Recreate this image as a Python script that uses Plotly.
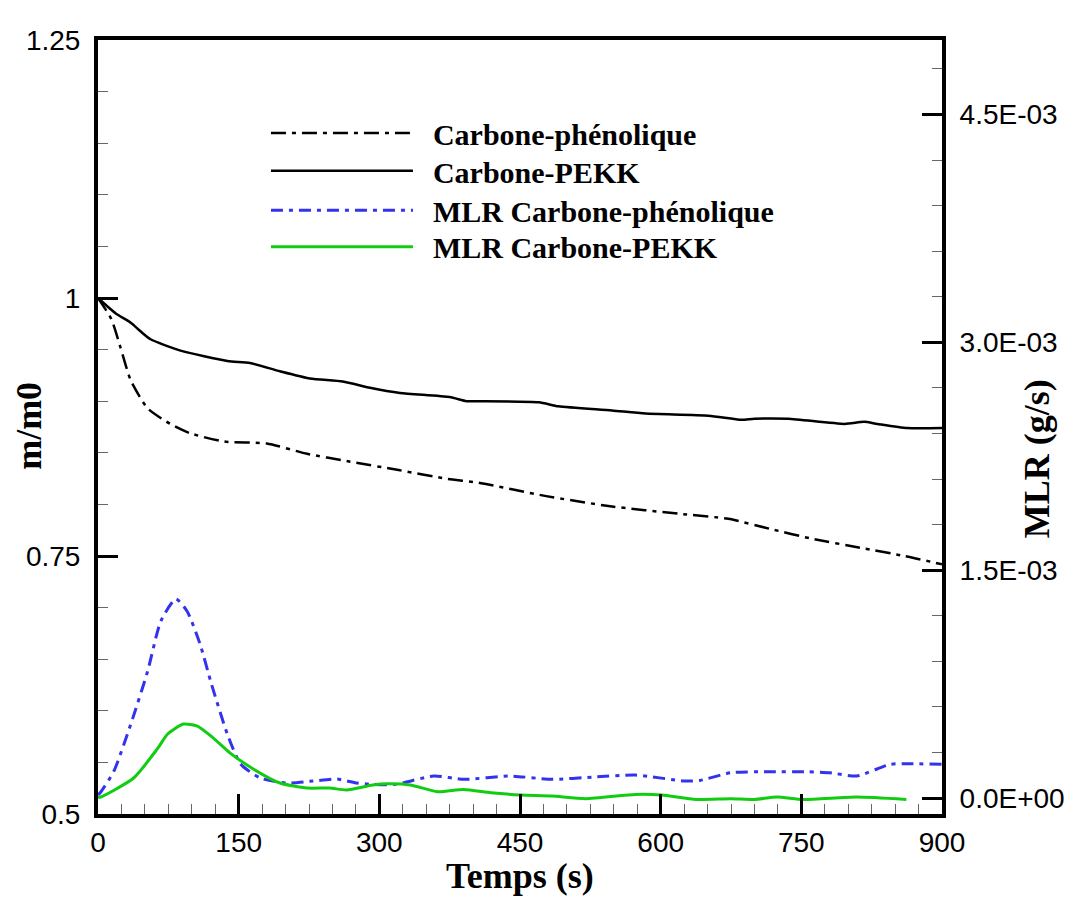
import plotly.graph_objects as go

# Temps (s) et m/m0
t_phen = [0, 14, 24, 35, 53, 77, 98, 134, 180, 223, 265, 322, 371, 406, 478, 548, 619, 672, 718, 760, 813, 860, 900]
m_phen = [1.0, 0.980, 0.952, 0.920, 0.893, 0.878, 0.869, 0.861, 0.859, 0.849, 0.842, 0.833, 0.825, 0.821,
          0.808, 0.798, 0.791, 0.786, 0.776, 0.767, 0.758, 0.750, 0.742]

t_pekk = [0, 19, 35, 45, 56, 88, 138, 162, 194, 226, 261, 290, 322, 375, 393, 406, 470, 491, 548, 584,
          651, 686, 700, 736, 796, 817, 831, 863, 900]
m_pekk = [1.0, 0.985, 0.976, 0.968, 0.960, 0.949, 0.939, 0.937, 0.929, 0.922, 0.919, 0.913, 0.908, 0.904,
          0.900, 0.900, 0.899, 0.895, 0.891, 0.888, 0.886, 0.882, 0.883, 0.883, 0.878, 0.880, 0.878, 0.874, 0.874]

# MLR (g/s)
t_mlr_phen = [0, 3, 17, 35, 53, 67, 83, 95, 109, 121, 138, 152, 173, 201, 229, 255, 276, 293, 317, 358,
              390, 439, 484, 528, 573, 626, 642, 675, 715, 756, 780, 809, 845, 866, 900]
mlr_phen = [0.00002, 0.00004, 0.000178, 0.000487, 0.000836, 0.001165, 0.00131, 0.00123, 0.00101, 0.00075,
            0.00042, 0.000224, 0.000132, 0.000099, 0.000112, 0.000125, 0.000099, 0.00009, 0.00009, 0.000145,
            0.000123, 0.000145, 0.000123, 0.000138, 0.000151, 0.000112, 0.000116, 0.000167, 0.000173,
            0.000173, 0.000167, 0.000145, 0.000222, 0.000226, 0.000222]

t_mlr_pekk = [0, 3, 38, 64, 74, 91, 106, 123, 141, 166, 194, 223, 247, 265, 293, 309, 333, 362, 390, 419,
              451, 484, 520, 573, 601, 638, 675, 700, 724, 752, 809, 862]
mlr_pekk = [0.000005, 0.000007, 0.000132, 0.00033, 0.00042, 0.000487, 0.000474, 0.000395, 0.000296, 0.00019,
            0.000099, 0.000066, 0.000066, 0.000053, 0.000086, 0.000094, 0.000086, 0.000042, 0.000057,
            0.000035, 0.00002, 0.000013, -0.000004, 0.000024, 0.00002, -0.000009, -0.000004, -0.000009,
            0.000007, -0.000009, 0.000007, -0.000009]

mlr_tickvals = [0, 0.0015, 0.003, 0.0045]
mlr_ticktext = ["0.0E+00", "1.5E-03", "3.0E-03", "4.5E-03"]

pad = "\u00a0\u00a0"  # petit espace entre le trait et le texte de la légende

fig = go.Figure()
fig.add_trace(go.Scatter(x=t_phen, y=m_phen, name=pad + "Carbone-phénolique", mode="lines", legend="legend",
                         line=dict(color="black", width=2.5, dash="15px,6px,4px,6px", shape="spline", smoothing=0.6)))
fig.add_trace(go.Scatter(x=t_pekk, y=m_pekk, name=pad + "Carbone-PEKK", mode="lines", legend="legend2",
                         line=dict(color="black", width=2.5, shape="spline", smoothing=0.6)))
fig.add_trace(go.Scatter(x=t_mlr_phen, y=mlr_phen, name=pad + "MLR Carbone-phénolique", mode="lines",
                         yaxis="y2", legend="legend3",
                         line=dict(color="#3333ee", width=3, dash="12px,6px,4px,6px", shape="spline", smoothing=0.6)))
fig.add_trace(go.Scatter(x=t_mlr_pekk, y=mlr_pekk, name=pad + "MLR Carbone-PEKK", mode="lines",
                         yaxis="y2", legend="legend4",
                         line=dict(color="#11cc11", width=3, shape="spline", smoothing=0.6)))

tick_font = dict(family="Liberation Sans, Arial", size=28, color="black")
title_font = dict(family="Liberation Serif, Times New Roman", size=36, color="black", weight="bold")
legend_font = dict(family="Liberation Serif, Times New Roman", size=30, color="black", weight="bold")
minor_common = dict(ticks="inside", ticklen=10, tickwidth=1, tickcolor="#666")


def legend_at(y):
    return dict(x=0.199, y=y, xanchor="left", yanchor="middle", bgcolor="rgba(0,0,0,0)",
                font=legend_font, itemwidth=142)


fig.update_layout(
    width=1069, height=895,
    margin=dict(l=90, r=131, t=32, b=89),
    plot_bgcolor="white", paper_bgcolor="white",
    showlegend=True,
    legend=legend_at(0.880),
    legend2=legend_at(0.831),
    legend3=legend_at(0.780),
    legend4=legend_at(0.733),
    xaxis=dict(range=[0, 900], tickmode="linear", tick0=0, dtick=150, showgrid=False, zeroline=False,
               showline=True, linecolor="black", linewidth=4, mirror=True,
               ticks="inside", ticklen=20, tickwidth=3, tickcolor="black", tickfont=tick_font,
               minor=dict(dtick=25, **minor_common)),
    yaxis=dict(range=[0.5, 1.25], tickmode="linear", tick0=0.5, dtick=0.25, showgrid=False, zeroline=False,
               showline=True, linecolor="black", linewidth=4,
               ticks="inside", ticklen=20, tickwidth=3, tickcolor="black", tickfont=tick_font,
               ticklabelstandoff=8, minor=dict(dtick=0.05, **minor_common)),
    yaxis2=dict(range=[-0.000105, 0.00499], overlaying="y", side="right", tickmode="array",
                tickvals=mlr_tickvals, ticktext=mlr_ticktext, showgrid=False, zeroline=False,
                showline=True, linecolor="black", linewidth=4,
                ticks="inside", ticklen=20, tickwidth=3, tickcolor="black", tickfont=tick_font,
                ticklabelstandoff=8, minor=dict(tickmode="linear", tick0=0, dtick=0.0003, **minor_common)),
    annotations=[
        dict(text="Temps (s)", xref="paper", yref="paper", x=0.5, y=-0.08, xanchor="center", yanchor="middle",
             showarrow=False, font=title_font),
        dict(text="m/m0", xref="paper", yref="paper", x=-0.081, y=0.501, xanchor="center", yanchor="middle",
             textangle=-90, showarrow=False, font=title_font),
        dict(text="MLR (g/s)", xref="paper", yref="paper", x=1.112, y=0.459, xanchor="center", yanchor="middle",
             textangle=-90, showarrow=False, font=title_font),
    ],
)

fig.write_html("out.html")
